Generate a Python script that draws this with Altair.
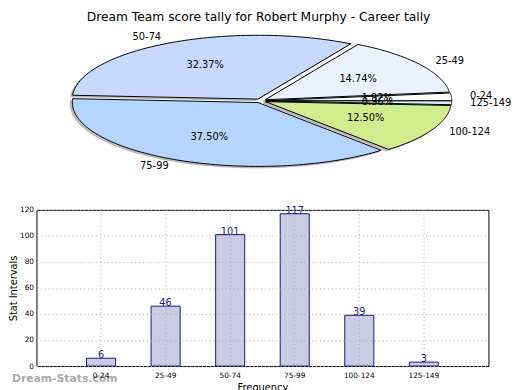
import altair as alt
import numpy as np
import pandas as pd

# ---- data ----
categories = ["0-24", "25-49", "50-74", "75-99", "100-124", "125-149"]
counts = [6, 46, 101, 117, 39, 3]
slice_colors = ["#ffffff", "#eaf1ff", "#c6d9ff", "#b4d5ff", "#d0ec8c", "#d2f2ff"]
y_ticks = [0, 20, 40, 60, 80, 100, 120]
title_text = "Dream Team score tally for Robert Murphy - Career tally"
watermark = "Dream-Stats.com"

# ---- pie geometry (derived from the counts) ----
explode = 0.03
total = sum(counts)
rows, labels = [], []
start = 0.0
for i, (cat, v) in enumerate(zip(categories, counts)):
    span = 360.0 * v / total
    a0, a1 = start, start + span
    mid = np.radians((a0 + a1) / 2)
    ox, oy = explode * np.cos(mid), explode * np.sin(mid)
    angs = np.linspace(np.radians(a0), np.radians(a1), 80)
    pts = [(ox, oy)] + [(ox + np.cos(a), oy + np.sin(a)) for a in angs] + [(ox, oy)]
    for k, (px, py) in enumerate(pts):
        rows.append({"cat": cat, "k": k, "x": px, "y": py})
    labels.append({
        "cat": cat,
        "lx": ox + 1.1 * np.cos(mid), "ly": oy + 1.1 * np.sin(mid),
        "px": ox + 0.6 * np.cos(mid), "py": oy + 0.6 * np.sin(mid),
        "pct": f"{100.0 * v / total:.2f}%",
        "side": "L" if np.cos(mid) < 0 else "R",
    })
    start = a1
pie_df = pd.DataFrame(rows)
lab_df = pd.DataFrame(labels)

PLOT_LEFT = 33  # page x of the plot areas
PW, PH = 460, 202
RX, RY = 189.0, 65.0
CX, CY = 261.0 - PLOT_LEFT, 91.0
xdom = [-CX / RX, (PW - CX) / RX]
ydom = [-(PH - CY) / RY, CY / RY]
xs = alt.Scale(domain=xdom, nice=False, zero=False)
ys = alt.Scale(domain=ydom, nice=False, zero=False)
noax = None

color_scale = alt.Scale(domain=categories, range=slice_colors)

shadow = alt.Chart(pie_df).transform_calculate(
    sx="datum.x - 0.012", sy="datum.y - 0.025"
).mark_line(fill="#808080", fillOpacity=0.5, stroke="#808080", strokeOpacity=0.35, strokeWidth=1).encode(
    x=alt.X("sx:Q", scale=xs, axis=noax),
    y=alt.Y("sy:Q", scale=ys, axis=noax),
    detail="cat:N",
    order="k:Q",
)

wedges = alt.Chart(pie_df).mark_line(stroke="black", strokeWidth=1).encode(
    x=alt.X("x:Q", scale=xs, axis=noax),
    y=alt.Y("y:Q", scale=ys, axis=noax),
    fill=alt.Fill("cat:N", scale=color_scale, legend=None),
    detail="cat:N",
    order="k:Q",
)

tfont = dict(font="DejaVu Sans", fontSize=10, color="black")
lab_left = alt.Chart(lab_df).transform_filter("datum.side == 'L'").mark_text(
    align="right", baseline="middle", **tfont
).encode(x=alt.X("lx:Q", scale=xs, axis=noax), y=alt.Y("ly:Q", scale=ys, axis=noax), text="cat:N")
lab_right = alt.Chart(lab_df).transform_filter("datum.side == 'R'").mark_text(
    align="left", baseline="middle", **tfont
).encode(x=alt.X("lx:Q", scale=xs, axis=noax), y=alt.Y("ly:Q", scale=ys, axis=noax), text="cat:N")
pct = alt.Chart(lab_df).mark_text(align="center", baseline="middle", **tfont).encode(
    x=alt.X("px:Q", scale=xs, axis=noax), y=alt.Y("py:Q", scale=ys, axis=noax), text="pct:N"
)
title = alt.Chart(pd.DataFrame({"t": [title_text]})).mark_text(
    align="center", baseline="top", font="DejaVu Sans", fontSize=12.5, color="black"
).encode(x=alt.value(259 - PLOT_LEFT), y=alt.value(0), text="t:N")

pie = alt.layer(shadow, wedges, lab_left, lab_right, pct, title).properties(
    width=PW, height=PH, view=alt.ViewBackground(strokeWidth=0)
)

# ---- bar chart ----
bar_df = pd.DataFrame({"cat": categories, "n": counts})
BH = 159
xscale = alt.Scale(domain=categories, paddingInner=0.55, paddingOuter=0.775)
yscale = alt.Scale(domain=[0, 120], nice=False)
bx = alt.X(
    "cat:N", sort=categories, scale=xscale,
    axis=alt.Axis(title="Frequency", labelAngle=0, labelFont="DejaVu Sans", labelFontSize=7.5,
                  labelColor="black", ticks=False, labelPadding=6, domain=False,
                  grid=True, gridColor="#aaaaaa", gridDash=[1, 3], gridWidth=1,
                  titleFont="DejaVu Sans", titleFontSize=10, titleFontWeight="normal",
                  titlePadding=3, titleColor="black", zindex=1),
)
by = alt.Y(
    "n:Q", scale=yscale,
    axis=alt.Axis(title="Stat Intervals", values=y_ticks,
                  labelFont="DejaVu Sans", labelFontSize=7.5, labelColor="black",
                  labelOverlap=False, labelFlush=False,
                  ticks=False, labelPadding=3, domain=False,
                  grid=True, gridColor="#aaaaaa", gridDash=[1, 3], gridWidth=1,
                  titleFont="DejaVu Sans", titleFontSize=10, titleFontWeight="normal",
                  titlePadding=1, titleColor="black", zindex=1),
)
bars = alt.Chart(bar_df).mark_bar(fill="#cbcbe3", stroke="#14148c", strokeWidth=1).encode(x=bx, y=by)
bar_text = alt.Chart(bar_df).mark_text(
    baseline="bottom", dy=2, font="DejaVu Sans", fontSize=10, color="#1a1a8a"
).encode(x=bx, y=by, text="n:Q")
wm = alt.Chart(pd.DataFrame({"t": [watermark]})).mark_text(
    align="left", baseline="middle", font="DejaVu Sans", fontSize=11, fontWeight="bold",
    color="#9a9a9a", opacity=0.85
).encode(x=alt.value(8 - PLOT_LEFT), y=alt.value(172), text="t:N")

barchart = alt.layer(bars, bar_text, wm).properties(
    width=PW, height=BH, view=alt.ViewBackground(stroke="black", strokeWidth=1)
)

chart = alt.vconcat(pie, barchart, spacing=0, bounds="flush").properties(
    padding={"left": 0, "top": 0, "right": 0, "bottom": 0},
).configure(background="white")

chart.save("out.html", embed_options={"renderer": "svg", "actions": False})
